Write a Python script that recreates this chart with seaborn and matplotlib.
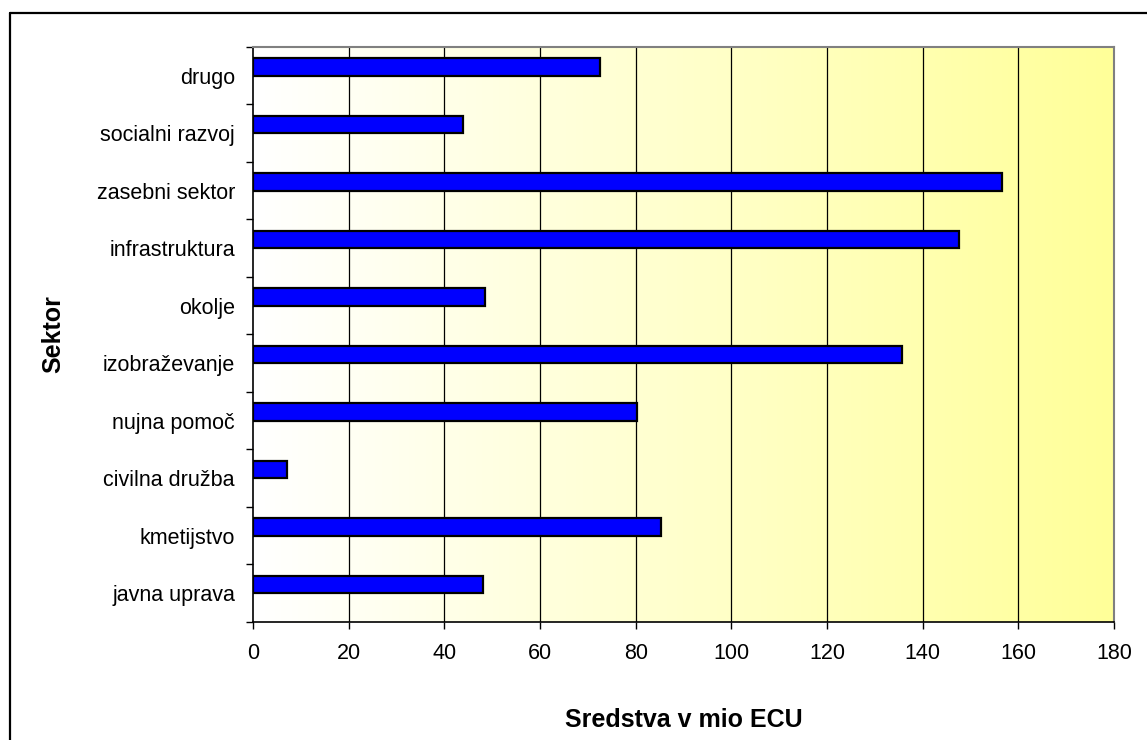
import numpy as np
import pandas as pd
import matplotlib
matplotlib.use("Agg")
import matplotlib.pyplot as plt
from matplotlib.colors import LinearSegmentedColormap
from matplotlib.lines import Line2D
from matplotlib.ticker import FixedLocator
import seaborn as sns

# Funding by sector (million ECU), listed top to bottom
sectors = ["drugo", "socialni razvoj", "zasebni sektor", "infrastruktura", "okolje",
           "izobraževanje", "nujna pomoč", "civilna družba", "kmetijstvo", "javna uprava"]
funds = [72.5, 44.0, 156.5, 147.7, 48.4, 135.6, 80.2, 7.0, 85.2, 48.0]
# second (empty) series keeps the bars in the upper slot of each category
empty_series = [np.nan] * len(sectors)
series_names = ["Sredstva", "prazno"]
x_ticks = [0, 20, 40, 60, 80, 100, 120, 140, 160, 180]

df = pd.DataFrame({
    "Sektor": sectors * 2,
    "Vrednost": funds + empty_series,
    "Serija": [series_names[0]] * len(sectors) + [series_names[1]] * len(sectors),
})

sns.set_theme(style="white")
plt.rcParams["font.family"] = ["Liberation Sans", "DejaVu Sans"]
plt.rcParams["text.color"] = "black"
plt.rcParams["axes.labelcolor"] = "black"

fig = plt.figure(figsize=(11.47, 7.40), dpi=100)
ax = fig.add_axes([0.2206, 0.1595, 0.7506, 0.777])

# white-to-yellow horizontal gradient behind the plot area
grad = LinearSegmentedColormap.from_list("wy", ["#FFFFFF", "#FFFF99"])
ax.imshow(np.linspace(0, 1, 256).reshape(1, -1), cmap=grad, aspect="auto",
          extent=[0, 1, 0, 1], transform=ax.transAxes, zorder=0, interpolation="bilinear")

sns.barplot(data=df, y="Sektor", x="Vrednost", hue="Serija", orient="h",
            order=sectors, hue_order=series_names,
            palette=["#0000FF", "#0000FF"], saturation=1, width=0.6, dodge=True,
            edgecolor="black", linewidth=1.6, legend=False, ax=ax, zorder=3)

ax.set_xlim(0, 180)
ax.set_ylim(len(sectors) - 0.5, -0.5)
ax.set_xticks(x_ticks)
ax.set_xticklabels([str(t) for t in x_ticks])

# vertical gridlines
ax.grid(False)
for t in x_ticks[1:]:
    ax.axvline(t, color="black", linewidth=0.9, zorder=2)

# ticks: x outward, y tick marks between categories
ax.tick_params(axis="x", which="major", direction="out", length=5, width=1,
               color="black", pad=10.5, labelsize=15.5, labelcolor="black", bottom=True)
ax.tick_params(axis="y", which="major", length=0, pad=13, labelsize=15.5,
               labelcolor="black", left=True)
ax.yaxis.set_minor_locator(FixedLocator(np.arange(-0.5, len(sectors), 1.0)))
ax.tick_params(axis="y", which="minor", direction="out", length=5, width=1,
               color="black", left=True)

for side in ["left", "bottom"]:
    ax.spines[side].set_color("black")
    ax.spines[side].set_linewidth(1.2)
for side in ["top", "right"]:
    ax.spines[side].set_color("#808080")
    ax.spines[side].set_linewidth(1.5)

ax.set_xlabel("Sredstva v mio ECU", fontsize=18, fontweight="bold", labelpad=31)
ax.set_ylabel("Sektor", fontsize=18, fontweight="bold", labelpad=0)
ax.yaxis.set_label_coords(-0.218, 0.5)

# chart frame (top and left edges fall inside the image)
fig.add_artist(Line2D([10 / 1147, 10 / 1147], [0, 1 - 13 / 740],
                      transform=fig.transFigure, color="black", linewidth=1.6))
fig.add_artist(Line2D([10 / 1147, 1], [1 - 13 / 740, 1 - 13 / 740],
                      transform=fig.transFigure, color="black", linewidth=1.6))

fig.savefig("out.png", dpi=100)
